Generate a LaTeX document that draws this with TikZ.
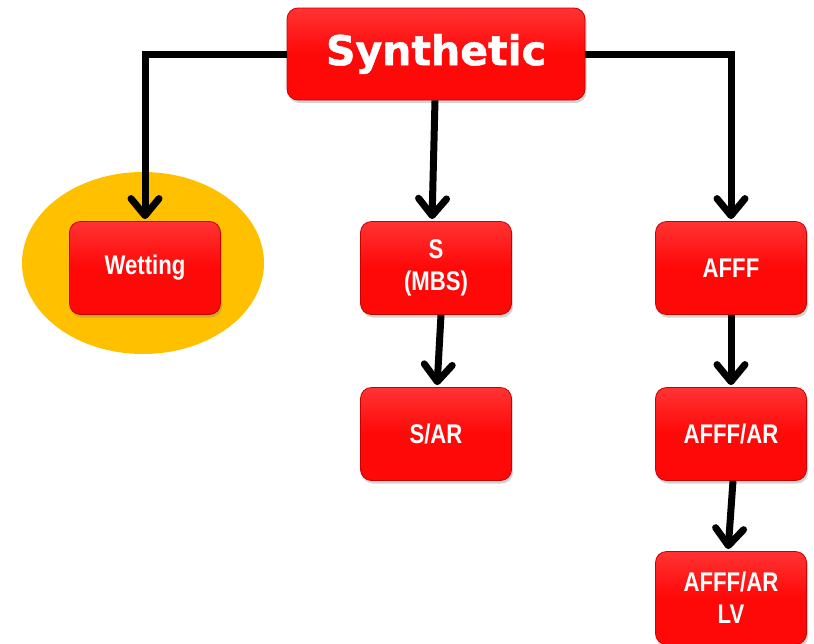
\documentclass[tikz,border=0pt]{standalone}
\usepackage{fontspec}
\setmainfont{Liberation Sans}
\newfontfamily\narrowfont[FakeStretch=0.82]{Liberation Sans}
\newfontfamily\heavyfont[FakeBold=1.2]{DejaVu Sans}
\usetikzlibrary{shapes,positioning,arrows.meta,shadows}

\definecolor{boxred}{RGB}{255,8,8}
\definecolor{boxedge}{RGB}{200,0,0}
\definecolor{halo}{RGB}{255,192,0}

\begin{document}
\begin{tikzpicture}[x=1pt,y=-1pt,
  box/.style={draw=boxedge, line width=0.8pt, top color=red!80!white, bottom color=boxred, middle color=boxred,
    rounded corners=11pt, minimum width=151pt, minimum height=93pt, text=white,
    font=\narrowfont\bfseries\fontsize{27}{32}\selectfont, align=center,
    drop shadow={shadow xshift=1.5pt, shadow yshift=-3pt, opacity=0.35}},
  link/.style={line width=7pt, shorten >=2pt, -{Straight Barb[round,length=17pt,width=28pt]}}
]
\useasboundingbox (0,0) rectangle (814,643);

\fill[halo] (143,263) ellipse (121 and 91);

\node[box, minimum width=298pt, minimum height=92pt, font=\heavyfont\bfseries\fontsize{41}{44}\selectfont] (syn) at (436,54) {Synthetic};

\node[box] (wet) at (145,268) {Wetting};
\node[box] (mbs) at (436,268) {S\\(MBS)};
\node[box] (afff) at (731,268) {AFFF};

\node[box] (sar) at (436,434) {S/AR};
\node[box] (affar) at (731,434) {AFFF/AR};
\node[box] (lv) at (731,598) {AFFF/AR\\LV};


\draw[link] (syn.west) -| (wet.north);
\draw[link] ([xshift=-1pt]syn.south) -- ([xshift=-4pt]mbs.north);
\draw[link] (syn.east) -| (afff.north);

\draw[link] ([xshift=5pt]mbs.south) -- ([xshift=1pt]sar.north);
\draw[link] (afff.south) -- (affar.north);
\draw[link] ([xshift=2pt]affar.south) -- ([xshift=-3pt]lv.north);

\end{tikzpicture}
\end{document}
